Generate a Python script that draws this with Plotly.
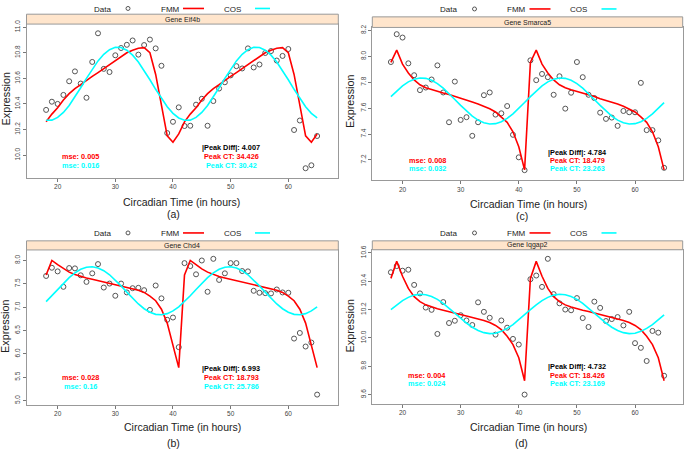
import plotly.graph_objects as go

hours = list(range(18, 66))
x_ticks = [20, 30, 40, 50, 60]

# Panel (a) Gene Eif4b
a_data = [10.353, 10.417, 10.40, 10.47, 10.577, 10.654, 10.559, 10.448, 10.728, 10.952, 10.674, 10.649,
          10.78, 10.837, 10.862, 10.896, 10.785, 10.86, 10.903, 10.834, 10.698, 10.172, 10.26, 10.373,
          10.227, 10.229, 10.394, 10.44, 10.229, 10.422, 10.52, 10.569, 10.623, 10.695, 10.677, 10.834,
          10.685, 10.708, 10.798, 10.813, 10.739, 10.775, 10.829, 10.196, 10.27, 9.897, 9.92, 10.149]
a_fmm = [10.26, 10.32, 10.37, 10.43, 10.48, 10.52, 10.55, 10.585, 10.615, 10.645, 10.675, 10.705,
         10.74, 10.77, 10.80, 10.82, 10.835, 10.84, 10.80, 10.63, 10.40, 10.15, 10.10, 10.165,
         10.26, 10.32, 10.37, 10.43, 10.48, 10.52, 10.55, 10.585, 10.615, 10.645, 10.675, 10.705,
         10.74, 10.77, 10.80, 10.82, 10.835, 10.84, 10.80, 10.63, 10.40, 10.15, 10.10, 10.165]
a_cos = [10.272, 10.273, 10.294, 10.333, 10.387, 10.453, 10.526, 10.600, 10.672, 10.736, 10.788, 10.824,
         10.842, 10.841, 10.820, 10.781, 10.727, 10.661, 10.589, 10.514, 10.442, 10.378, 10.326, 10.290,
         10.272, 10.273, 10.294, 10.333, 10.387, 10.453, 10.526, 10.600, 10.672, 10.736, 10.788, 10.824,
         10.842, 10.841, 10.820, 10.781, 10.727, 10.661, 10.589, 10.514, 10.442, 10.378, 10.326, 10.290]
a_yticks = [10.0, 10.2, 10.4, 10.6, 10.8, 11.0]

# Panel (b) Gene Chd4
b_data = [7.668, 7.844, 7.766, 7.435, 7.837, 7.83, 7.682, 7.541, 7.724, 7.922, 7.42, 7.505,
          7.244, 7.505, 7.315, 7.406, 7.414, 7.364, 6.941, 7.463, 7.188, 6.729, 6.778, 6.143,
          7.943, 7.879, 7.703, 7.999, 7.329, 8.035, 7.583, 7.724, 7.943, 7.943, 7.773, 7.766,
          7.35, 7.308, 7.30, 7.294, 7.378, 7.315, 7.308, 6.327, 6.447, 6.157, 6.242, 5.127]
b_fmm = [7.69, 8.00, 7.91, 7.82, 7.75, 7.70, 7.655, 7.625, 7.597, 7.568, 7.54, 7.515,
         7.49, 7.463, 7.435, 7.40, 7.364, 7.315, 7.237, 7.138, 6.955, 6.658, 6.164, 5.706,
         7.69, 8.00, 7.91, 7.82, 7.75, 7.70, 7.655, 7.625, 7.597, 7.568, 7.54, 7.515,
         7.49, 7.463, 7.435, 7.40, 7.364, 7.315, 7.237, 7.138, 6.955, 6.658, 6.164, 5.706]
b_cos = [7.118, 7.245, 7.379, 7.511, 7.632, 7.734, 7.810, 7.854, 7.864, 7.839, 7.781, 7.693,
         7.582, 7.455, 7.321, 7.189, 7.068, 6.966, 6.890, 6.846, 6.836, 6.861, 6.919, 7.007,
         7.118, 7.245, 7.379, 7.511, 7.632, 7.734, 7.810, 7.854, 7.864, 7.839, 7.781, 7.693,
         7.582, 7.455, 7.321, 7.189, 7.068, 6.966, 6.890, 6.846, 6.836, 6.861, 6.919, 7.007]
b_yticks = [5.0, 5.5, 6.0, 6.5, 7.0, 7.5, 8.0]

# Panel (c) Gene Smarca5
c_data = [7.956, 8.171, 8.145, 7.946, 7.854, 7.739, 7.759, 7.821, 7.93, 7.721, 7.491, 7.805,
          7.509, 7.53, 7.386, 7.491, 7.70, 7.721, 7.55, 7.56, 7.616, 7.394, 7.22, 7.121,
          7.969, 7.816, 7.864, 7.839, 7.703, 7.846, 7.596, 7.719, 7.956, 7.839, 7.703, 7.678,
          7.565, 7.517, 7.527, 7.463, 7.578, 7.568, 7.568, 7.795, 7.43, 7.43, 7.351, 7.139]
c_fmm = [7.953, 8.048, 7.94, 7.872, 7.818, 7.78, 7.757, 7.742, 7.729, 7.717, 7.706, 7.69,
         7.673, 7.66, 7.647, 7.632, 7.614, 7.595, 7.57, 7.532, 7.49, 7.417, 7.302, 7.123,
         7.953, 8.048, 7.94, 7.872, 7.818, 7.78, 7.757, 7.742, 7.729, 7.717, 7.706, 7.69,
         7.673, 7.66, 7.647, 7.632, 7.614, 7.595, 7.57, 7.532, 7.49, 7.417, 7.302, 7.123]
c_cos = [7.689, 7.733, 7.772, 7.803, 7.823, 7.833, 7.830, 7.815, 7.789, 7.754, 7.713, 7.667,
         7.621, 7.577, 7.538, 7.507, 7.487, 7.477, 7.480, 7.495, 7.521, 7.556, 7.597, 7.643,
         7.689, 7.733, 7.772, 7.803, 7.823, 7.833, 7.830, 7.815, 7.789, 7.754, 7.713, 7.667,
         7.621, 7.577, 7.538, 7.507, 7.487, 7.477, 7.480, 7.495, 7.521, 7.556, 7.597, 7.643]
c_yticks = [7.2, 7.4, 7.6, 7.8, 8.0, 8.2]

# Panel (d) Gene Iqgap2
d_data = [10.463, 10.507, 10.474, 10.481, 10.374, 10.314, 10.214, 10.198, 10.028, 10.253, 10.105, 10.121,
          10.16, 10.123, 10.091, 10.251, 10.184, 10.142, 10.023, 10.123, 10.072, 9.993, 9.953, 9.60,
          10.414, 10.44, 10.36, 10.558, 10.309, 10.244, 10.20, 10.195, 10.281, 10.14, 10.077, 10.256,
          10.212, 10.119, 10.133, 10.147, 10.088, 10.184, 9.963, 9.93, 9.837, 10.049, 10.037, 9.733]
d_fmm = [10.42, 10.54, 10.435, 10.349, 10.291, 10.256, 10.233, 10.218, 10.205, 10.195, 10.186, 10.177,
         10.167, 10.155, 10.144, 10.134, 10.123, 10.108, 10.088, 10.058, 10.012, 9.953, 9.86, 9.698,
         10.42, 10.54, 10.435, 10.349, 10.291, 10.256, 10.233, 10.218, 10.205, 10.195, 10.186, 10.177,
         10.167, 10.155, 10.144, 10.134, 10.123, 10.108, 10.088, 10.058, 10.012, 9.953, 9.86, 9.698]
d_cos = [10.199, 10.233, 10.263, 10.286, 10.302, 10.308, 10.305, 10.292, 10.272, 10.244, 10.211, 10.175,
         10.139, 10.105, 10.075, 10.052, 10.037, 10.030, 10.033, 10.046, 10.067, 10.094, 10.127, 10.163,
         10.199, 10.233, 10.263, 10.286, 10.302, 10.308, 10.305, 10.292, 10.272, 10.244, 10.211, 10.175,
         10.139, 10.105, 10.075, 10.052, 10.037, 10.030, 10.033, 10.046, 10.067, 10.094, 10.127, 10.163]
d_yticks = [9.6, 9.8, 10.0, 10.2, 10.4, 10.6]

genes = ["Gene Eif4b", "Gene Chd4", "Gene Smarca5", "Gene Iqgap2"]
panel_tags = ["(a)", "(b)", "(c)", "(d)"]
mse_fmm = ["mse: 0.005", "mse: 0.028", "mse: 0.008", "mse: 0.004"]
mse_cos = ["mse: 0.016", "mse: 0.16", "mse: 0.032", "mse: 0.024"]
peak_diff = ["|Peak Diff|: 4.007", "|Peak Diff|: 6.993", "|Peak Diff|: 4.784", "|Peak Diff|: 4.732"]
peak_fmm = ["Peak CT: 34.426", "Peak CT: 18.793", "Peak CT: 18.479", "Peak CT: 18.426"]
peak_cos = ["Peak CT: 30.42", "Peak CT: 25.786", "Peak CT: 23.263", "Peak CT: 23.169"]

W, H = 685, 450
RED = "#FF0000"
CYAN = "#00FFFF"
FONT = "Liberation Sans, Arial, sans-serif"


def px(x):
    return x / W


def py(y):
    return 1 - y / H


def note(text, x, y, size, color, angle=0):
    return dict(text=text, x=px(x), y=py(y), xref="paper", yref="paper", showarrow=False,
                xanchor="center", yanchor="middle", textangle=angle,
                font=dict(size=size, color=color, family=FONT))


# layout geometry in pixels: left, right, strip top, plot top, plot bottom
panels = [
    dict(data=a_data, fmm=a_fmm, cos=a_cos, yticks=a_yticks, yr=[9.824, 11.024], xr=[14.6, 68.67],
         box=(26.5, 338.3, 9.3, 19.3, 174.5), ly=4.5,
         stat=dict(mx=80.3, sx=231, y_pd=144, y1=153.5, y2=162.7), xt=(181.7, 199), tag=(173, 211),
         yt=(5.5, 95)),
    dict(data=b_data, fmm=b_fmm, cos=b_cos, yticks=b_yticks, yr=[4.915, 8.225], xr=[14.6, 68.67],
         box=(26.5, 338.3, 238.5, 247.7, 404.0), ly=231.5,
         stat=dict(mx=80.3, sx=231, y_pd=367.7, y1=377, y2=386), xt=(182, 426.7), tag=(173, 443),
         yt=(5.5, 325)),
    dict(data=c_data, fmm=c_fmm, cos=c_cos, yticks=c_yticks, yr=[7.047, 8.223], xr=[14.8, 68.2],
         box=(372.3, 682.7, 12.0, 22.7, 176.7), ly=5,
         stat=dict(mx=427, sx=577, y_pd=148.7, y1=157.3, y2=165.7), xt=(528.3, 201), tag=(521.7, 213),
         yt=(350, 98)),
    dict(data=d_data, fmm=d_fmm, cos=d_cos, yticks=d_yticks, yr=[9.537, 10.622], xr=[14.8, 68.2],
         box=(372.3, 682.7, 238.5, 247.5, 403.0), ly=231.5,
         stat=dict(mx=427, sx=577, y_pd=365.3, y1=374.3, y2=382.7), xt=(528.3, 426.7), tag=(521.7, 443),
         yt=(350, 325)),
]

fig = go.Figure()
annotations = []
shapes = []
layout_axes = {}

for i, p in enumerate(panels):
    n = "" if i == 0 else str(i + 1)
    xa, ya = "x" + n, "y" + n
    fig.add_trace(go.Scatter(x=hours, y=p["data"], mode="markers", xaxis=xa, yaxis=ya,
                             marker=dict(symbol="circle-open", size=5, color="#555555",
                                         line=dict(width=1, color="#555555")),
                             showlegend=False, hoverinfo="skip"))
    fig.add_trace(go.Scatter(x=hours, y=p["fmm"], mode="lines", xaxis=xa, yaxis=ya,
                             line=dict(color=RED, width=1.6), showlegend=False))
    fig.add_trace(go.Scatter(x=hours, y=p["cos"], mode="lines", xaxis=xa, yaxis=ya,
                             line=dict(color=CYAN, width=1.6), showlegend=False))
    l, r, st, t, b = p["box"]
    layout_axes["xaxis" + n] = dict(domain=[px(l), px(r)], range=p["xr"], anchor=ya,
                                    tickvals=x_ticks, ticks="outside", ticklen=3, tickcolor="#777777",
                                    tickfont=dict(size=6.5, color="#444444", family=FONT),
                                    showline=True, mirror=True, linecolor="#999999", linewidth=1,
                                    showgrid=False, zeroline=False)
    layout_axes["yaxis" + n] = dict(domain=[py(b), py(t)], range=p["yr"], anchor=xa,
                                    tickvals=p["yticks"], tickformat=".1f", ticks="outside", ticklen=3,
                                    tickcolor="#777777", tickangle=-90,
                                    tickfont=dict(size=6.5, color="#444444", family=FONT),
                                    showline=True, mirror=True, linecolor="#999999", linewidth=1,
                                    showgrid=False, zeroline=False)
    # strip
    shapes.append(dict(type="rect", xref="paper", yref="paper", x0=px(l), x1=px(r), y0=py(t), y1=py(st),
                       fillcolor="#FFE5CC", line=dict(color="#999999", width=1)))
    cx = (l + r) / 2
    annotations.append(note(genes[i], cx, (st + t) / 2, 7, "#222222"))
    # legend key
    off = 0 if i < 2 else 346.5
    ly = p["ly"]
    annotations.append(note("Data", 102 + off, ly, 8, "#222222"))
    shapes.append(dict(type="circle", xref="paper", yref="paper",
                       x0=px(126 + off), x1=px(130 + off), y0=py(ly + 1), y1=py(ly - 3),
                       line=dict(color="#555555", width=1)))
    annotations.append(note("FMM", 170 + off, ly, 8, "#222222"))
    shapes.append(dict(type="line", xref="paper", yref="paper", x0=px(183 + off), x1=px(204 + off),
                       y0=py(ly - 1), y1=py(ly - 1), line=dict(color=RED, width=1.6)))
    annotations.append(note("COS", 232 + off, ly, 8, "#222222"))
    shapes.append(dict(type="line", xref="paper", yref="paper", x0=px(255 + off), x1=px(270 + off),
                       y0=py(ly - 1), y1=py(ly - 1), line=dict(color=CYAN, width=1.6)))
    # stats text
    s = p["stat"]
    annotations.append(note("<b>" + mse_fmm[i] + "</b>", s["mx"], s["y1"], 7.3, RED))
    annotations.append(note("<b>" + mse_cos[i] + "</b>", s["mx"], s["y2"], 7.3, CYAN))
    annotations.append(note("<b>" + peak_diff[i] + "</b>", s["sx"], s["y_pd"], 7.3, "#000000"))
    annotations.append(note("<b>" + peak_fmm[i] + "</b>", s["sx"], s["y1"], 7.3, RED))
    annotations.append(note("<b>" + peak_cos[i] + "</b>", s["sx"], s["y2"], 7.3, CYAN))
    # axis titles and panel tag
    annotations.append(note("Expression", p["yt"][0], p["yt"][1], 10.8, "#222222", angle=-90))
    annotations.append(note("Circadian Time (in hours)", p["xt"][0], p["xt"][1], 10.5, "#222222"))
    annotations.append(note(panel_tags[i], p["tag"][0], p["tag"][1], 10.5, "#222222"))

fig.update_layout(width=W, height=H, margin=dict(l=0, r=0, t=0, b=0),
                  paper_bgcolor="white", plot_bgcolor="white", hovermode=False,
                  annotations=annotations, shapes=shapes, showlegend=False, **layout_axes)
fig.write_html("out.html", config={"displayModeBar": False, "staticPlot": True},
               post_script="document.body.style.margin='0px';document.body.style.padding='0px';")
